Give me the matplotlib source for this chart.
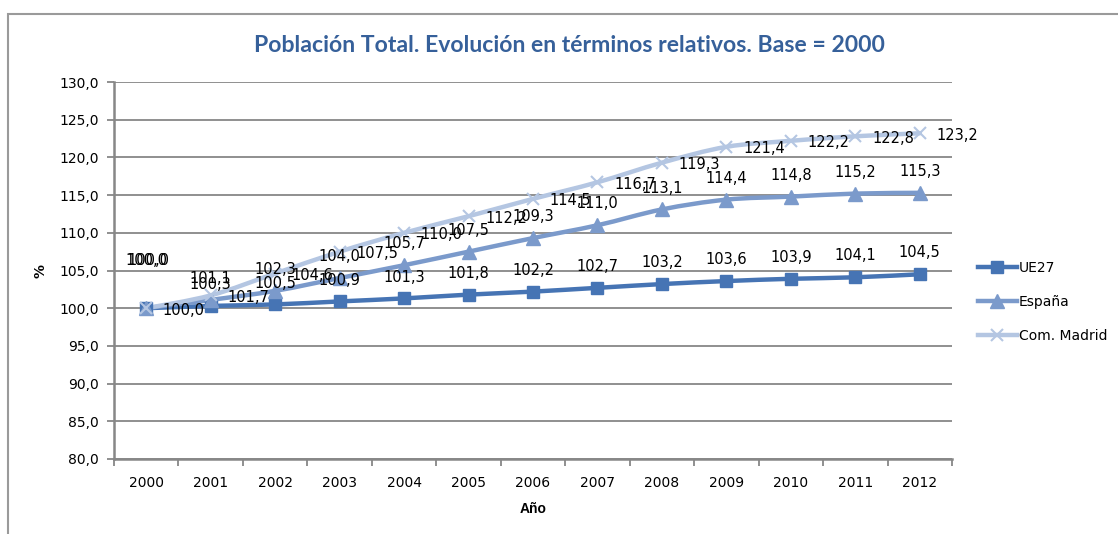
import matplotlib
matplotlib.use("Agg")
import matplotlib.pyplot as plt
from matplotlib.path import Path
from matplotlib.patches import PathPatch, Rectangle
from matplotlib.lines import Line2D
import numpy as np

# Datos (base 2000 = 100)
years = ["2000", "2001", "2002", "2003", "2004", "2005", "2006",
         "2007", "2008", "2009", "2010", "2011", "2012"]
ue27 = [100.0, 100.3, 100.5, 100.9, 101.3, 101.8, 102.2, 102.7, 103.2, 103.6, 103.9, 104.1, 104.5]
espana = [100.0, 101.1, 102.3, 104.0, 105.7, 107.5, 109.3, 111.0, 113.1, 114.4, 114.8, 115.2, 115.3]
madrid = [100.0, 101.7, 104.6, 107.5, 110.0, 112.2, 114.5, 116.7, 119.3, 121.4, 122.2, 122.8, 123.2]
y_ticks = [80, 85, 90, 95, 100, 105, 110, 115, 120, 125, 130]

c_ue = "#4674b4"
c_es = "#7b9acb"
c_md = "#b4c6e2"
grey = "#878787"


def smooth_path(xs, ys):
    # curva tipo "línea suavizada" de Excel (Bezier Catmull-Rom)
    pts = np.column_stack([xs, ys]).astype(float)
    n = len(pts)
    verts = [pts[0]]
    codes = [Path.MOVETO]
    for i in range(n - 1):
        p0 = pts[i - 1] if i > 0 else pts[i]
        p1 = pts[i]
        p2 = pts[i + 1]
        p3 = pts[i + 2] if i + 2 < n else pts[i + 1]
        verts += [p1 + (p2 - p0) / 6, p2 - (p3 - p1) / 6, p2]
        codes += [Path.CURVE4] * 3
    return Path(verts, codes)


def fmt(v):
    return f"{v:.1f}".replace(".", ",")


fig = plt.figure(figsize=(11.18, 5.34), dpi=100)
ax = fig.add_axes([114 / 1118, 1 - 459 / 534, (952 - 114) / 1118, (459 - 82) / 534])

# marco exterior del gráfico
fig.patches.append(Rectangle((8 / 1118, -0.05), 1.2, 1 - 14 / 534 + 0.05,
                             transform=fig.transFigure, fill=False,
                             edgecolor="#9a9a9a", linewidth=1.5, zorder=0))

x = np.arange(len(years))
series = [
    (ue27, c_ue, "s", 9, "UE27"),
    (espana, c_es, "^", 10, "España"),
    (madrid, c_md, "x", 9, "Com. Madrid"),
]
for vals, col, mk, ms, name in series:
    ax.add_patch(PathPatch(smooth_path(x, vals), fill=False, edgecolor=col,
                           linewidth=3.2, capstyle="round", joinstyle="round", zorder=3))
    ax.plot(x, vals, linestyle="none", marker=mk, markersize=ms, color=col,
            markeredgewidth=1.5 if mk == "x" else 1, zorder=4)

# etiquetas de datos (las del año 2000 van más arriba, como en el original)
for vals, dx in [(ue27, 0), (espana, 1.5)]:
    for xi, v in zip(x, vals):
        dy = 29 if xi == 0 else 10
        ax.annotate(fmt(v), (xi, v), xytext=(dx if xi == 0 else 0, dy),
                    textcoords="offset points", ha="center", va="bottom",
                    fontsize=10.5, zorder=5)
for xi, v in zip(x, madrid):
    ax.annotate(fmt(v), (xi, v), xytext=(12, -1.5),
                textcoords="offset points", ha="left", va="center", fontsize=10.5, zorder=5)

ax.set_xlim(-0.5, len(years) - 0.5)
ax.set_ylim(80, 130)
ax.set_yticks(y_ticks)
ax.set_yticklabels([fmt(t) for t in y_ticks], fontsize=10)
ax.set_xticks(x)
ax.set_xticklabels(years, fontsize=10)
ax.tick_params(axis="x", length=0, pad=12)
ax.set_xticks(np.arange(-0.5, len(years), 1), minor=True)
ax.tick_params(axis="x", which="minor", length=5, color=grey, width=1.3)
ax.tick_params(axis="y", length=5, color=grey, width=1.3, pad=6)

ax.grid(axis="y", color=grey, linewidth=1.3)
ax.set_axisbelow(True)
for s in ["top", "right"]:
    ax.spines[s].set_visible(False)
for s in ["left", "bottom"]:
    ax.spines[s].set_color(grey)
    ax.spines[s].set_linewidth(1.8)

ax.set_xlabel("Año", fontsize=10, fontweight="bold", family="Liberation Sans", labelpad=9)
ax.set_ylabel("%", fontsize=10, fontweight="bold", labelpad=8)

fig.text(569 / 1118, 1 - 45 / 534,
         "Población Total. Evolución en términos relativos. Base = 2000",
         ha="center", va="center", fontsize=16.6, fontweight="bold",
         family="Lato", color="#36609a")

handles = [Line2D([0], [0], color=col, marker=mk, markersize=ms, linewidth=3.2,
                  markeredgewidth=1.5 if mk == "x" else 1)
           for vals, col, mk, ms, name in series]
fig.legend(handles, [s[4] for s in series], loc="center left",
           bbox_to_anchor=(978 / 1118, 1 - 302 / 534), frameon=False,
           fontsize=10, handlelength=2.8, handletextpad=0.15, labelspacing=1.45,
           borderpad=0, borderaxespad=0)

fig.savefig("out.png", dpi=100)
